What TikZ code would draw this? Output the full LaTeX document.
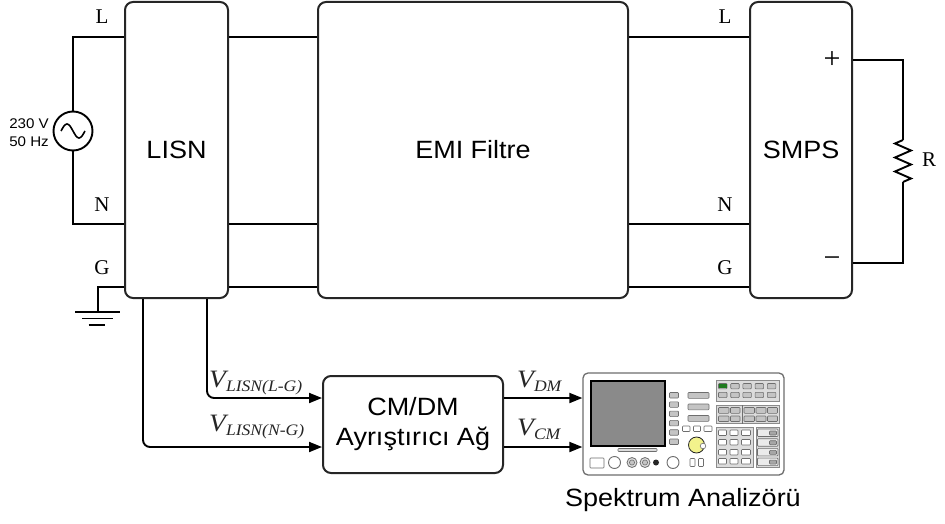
\documentclass[tikz,border=0pt]{standalone}
\usepackage{fontspec}
\setmainfont{Liberation Sans}[FakeStretch=1.08]
\newfontfamily\pinfont{Liberation Serif}
\newfontfamily\labfont{Liberation Serif}[FakeStretch=1.1]
\usetikzlibrary{arrows.meta}
\definecolor{edge}{HTML}{262626}
\definecolor{scr}{HTML}{8A8A8A}
\definecolor{btn}{HTML}{C4C4C4}
\definecolor{btnedge}{HTML}{6E6E6E}
\definecolor{panel}{HTML}{DCDCDC}
\definecolor{knob}{HTML}{F2F28C}
\definecolor{lamp}{HTML}{1E7A1E}
\newcommand\vlab[1]{{\labfont\itshape\fontsize{25}{25}\selectfont V}\raisebox{-4pt}{\labfont\itshape\fontsize{16}{16}\selectfont #1}}
\tikzset{
  wire/.style={line width=1.9pt, black},
  arr/.style={wire, -{Triangle[length=13pt,width=10pt]}},
  blk/.style={draw=edge, line width=2pt, rounded corners=8pt, inner sep=0pt, align=center,
    font=\fontsize{25}{30}\selectfont},
  pin/.style={font=\pinfont\fontsize{21}{21}\selectfont, inner sep=0pt},
  sign/.style={font=\pinfont\fontsize{30}{30}\selectfont, inner sep=0pt},
  vtext/.style={anchor=base west, inner sep=0pt, text=black!85},
  key/.style={fill=btn, draw=btnedge, line width=0.6pt, rounded corners=0.8pt},
  wkey/.style={fill=white, draw=btnedge, line width=0.6pt, rounded corners=0.8pt},
  pnl/.style={fill=panel, draw=btnedge!80, line width=0.6pt},
}
\begin{document}
\begin{tikzpicture}[x=1pt, y=-1pt]
\useasboundingbox[fill=white] (0,0) rectangle (945,524);

% main blocks
\node[blk, minimum width=103pt, minimum height=296pt] (lisn) at (176.5,150) {LISN};
\node[blk, minimum width=310pt, minimum height=296pt] (emi) at (473,150) {EMI Filtre};
\node[blk, minimum width=102pt, minimum height=296pt] (smps) at (801,150) {SMPS};
\node[blk, minimum width=180pt, minimum height=97pt] (cmdm) at (413,424.5) {CM/DM\\Ayrıştırıcı Ağ};

% line levels
\coordinate (yL) at (0,37);
\coordinate (yN) at (0,224);
\coordinate (yG) at (0,287);
\coordinate (yP) at (0,60);
\coordinate (yM) at (0,263);

% mains source
\node[circle, draw, line width=1.9pt, minimum size=39pt, inner sep=0pt] (src) at (73,131) {};
\draw[line width=1.6pt] ([xshift=-12pt]src.center) sin ++(6,-7) cos ++(6,7) sin ++(6,7) cos ++(6,-7);
\node[align=right, inner sep=0pt, anchor=east, font=\fontsize{14}{17.7}\selectfont] (srclab) at (49,133) {230 V\\50 Hz};
\draw[wire] (src.north) |- (lisn.west |- yL);
\draw[wire] (src.south) |- (lisn.west |- yN);

% earth
\coordinate (gnd) at (98,312);
\draw[wire] (lisn.west |- yG) -| (gnd);
\draw[wire] (75,312) -- (120,312);
\draw[wire] (82,318.5) -- (113,318.5);
\draw[wire] (88.5,325) -- (105,325);

% inter-block lines
\foreach \lv in {yL,yN,yG}{
  \draw[wire] (lisn.east |- \lv) -- (emi.west |- \lv);
  \draw[wire] (emi.east |- \lv) -- (smps.west |- \lv);
}

% pin letters
\node[pin] (pL1) at (102,17) {L};
\node[pin] (pN1) at (102,205) {N};
\node[pin] (pG1) at (102,268) {G};
\node[pin] (pL2) at (725,17) {L};
\node[pin] (pN2) at (725,205) {N};
\node[pin] (pG2) at (725,268) {G};
\node[sign] (plus) at (832,60) {+};
\node[sign] (minus) at (832,262) {−};

% load resistor
\coordinate (rtop) at (903,140);
\coordinate (rbot) at (903,182);
\draw[wire] (smps.east |- yP) -| (rtop);
\draw[line width=1.9pt, line join=miter] (rtop) -- (895,143.5) -- (911,150.5) -- (895,157.5) -- (911,164.5) -- (895,171.5) -- (911,178.5) -- (rbot);
\draw[wire] (rbot) |- (smps.east |- yM);
\node[pin] (rlab) at (929,160) {R};

% measurement paths
\coordinate (tapN) at (143,447);
\coordinate (tapL) at (207,398);
\draw[arr, rounded corners=7pt] (lisn.south -| tapN) |- (cmdm.west |- tapN);
\draw[arr, rounded corners=7pt] (lisn.south -| tapL) |- (cmdm.west |- tapL);
\node[vtext] (vl) at (209,387) {\vlab{LISN(L-G)}};
\node[vtext] (vn) at (209,431.5) {\vlab{LISN(N-G)}};

% spectrum analyzer
\node[draw=btnedge, line width=1.3pt, rounded corners=5pt, fill=white,
  minimum width=201pt, minimum height=102pt, inner sep=0pt] (sa) at (683.5,424) {};
\node[font=\fontsize{25}{25}\selectfont, inner sep=0pt] (salab) at (683,500) {Spektrum Analizörü};
\draw[arr] (cmdm.east |- tapL) -- (sa.west |- tapL);
\draw[arr] (cmdm.east |- tapN) -- (sa.west |- tapN);
\node[vtext] (vdm) at (517,387) {\vlab{DM}};
\node[vtext] (vcm) at (517,435.5) {\vlab{CM}};

% screen and front panel
\filldraw[fill=scr, draw=black, line width=1.8pt] (591,381) rectangle (665,446);
\draw[wkey, fill=panel] (618,448.5) rectangle (657,451.5);
\draw[wkey] (590,458) rectangle (604,468);
\draw[wkey, line width=0.9pt] (614.5,462.5) circle (6);
\foreach \cx in {632,645}{
  \draw[fill=panel, draw=btnedge, line width=0.8pt] (\cx,462.5) circle (5);
  \draw[fill=btn, draw=btnedge, line width=0.6pt] (\cx,462.5) circle (2.6);
}
\fill[black!85] (656,462.5) circle (3);
\draw[wkey, line width=0.9pt] (673,462.5) circle (6);
\foreach \i in {0,...,5}{
  \draw[key] (669.5,{392.5+9.3*\i}) rectangle (678.5,{398+9.3*\i});
}
\foreach \yy in {392.5,404,415.5}{
  \draw[key] (688,\yy) rectangle (709,\yy+5.8);
}
\draw[wkey] (682.5,426) rectangle (690,431.5);
\draw[wkey] (693.5,426) rectangle (700.5,431.5);
\draw[wkey] (704,426) rectangle (712,431.5);
\draw[fill=knob, draw=edge, line width=0.8pt] (696.5,445) circle (8);
\draw[fill=white, draw=btnedge, line width=0.6pt] (703,446) circle (2.8);
\draw[wkey] (690,458.5) rectangle (695,466.5);
\draw[wkey] (698.5,458.5) rectangle (703.5,466.5);
% function key blocks
\draw[pnl] (716,380) rectangle (779.5,401.5);
\foreach \i in {0,...,4}{
  \draw[key] ({718.5+12.2*\i},383.5) rectangle ({727+12.2*\i},388.8);
  \draw[key] ({718.5+12.2*\i},392.3) rectangle ({727+12.2*\i},397.6);
}
\fill[lamp] (719,384) rectangle (726.5,388.3);
\draw[pnl] (716,405) rectangle (779.5,423.5);
\draw[btnedge, line width=0.6pt] (742,405) -- (742,423.5);
\foreach \xa/\xb in {718.5/729,730.5/740,744/754.5,756/766,767.5/777.5}{
  \draw[key] (\xa,407.5) rectangle (\xb,413.3);
  \draw[key] (\xa,416) rectangle (\xb,421.5);
}
\draw[pnl] (716,427.5) rectangle (753.5,467.5);
\foreach \xa/\xb in {718.5/726.5,730/738,741.5/750.5}{
  \foreach \yy in {430,439.5,449.5,458.5}{
    \draw[wkey] (\xa,\yy) rectangle (\xb,\yy+5.5);
  }
}
\draw[pnl] (756,427.5) rectangle (779.5,467.5);
\foreach \i in {0,...,3}{
  \draw[wkey, fill=white!92!black] (757.5,{429+9.7*\i}) rectangle (778,{436.5+9.7*\i});
  \draw[key, fill=gray!70] (769.5,{431+9.7*\i}) rectangle (776.5,{435+9.7*\i});
}
\end{tikzpicture}
\end{document}
